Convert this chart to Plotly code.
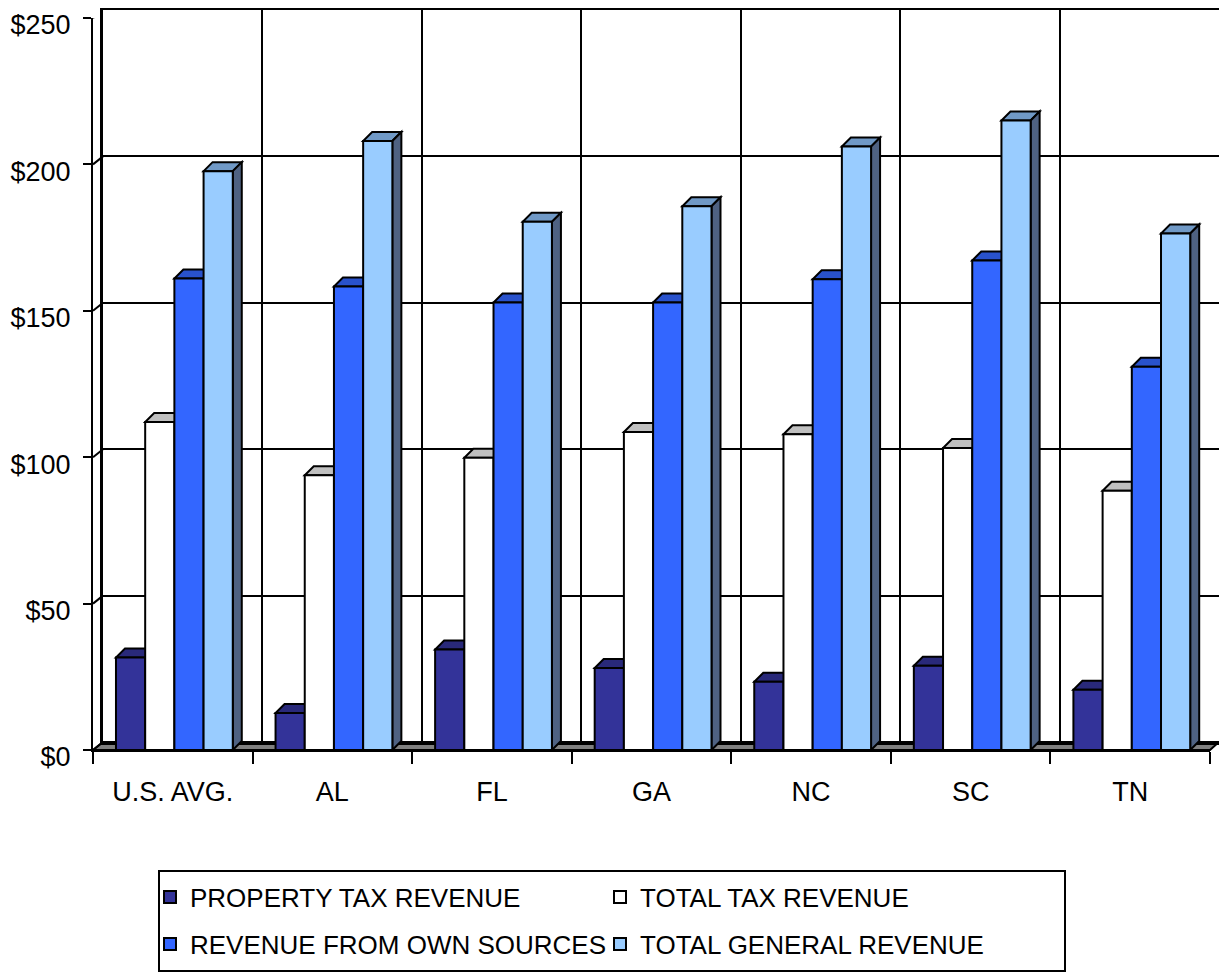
import plotly.graph_objects as go

categories = ["U.S. AVG.", "AL", "FL", "GA", "NC", "SC", "TN"]
property_tax = [31.6, 12.6, 34.3, 28.0, 23.3, 28.8, 20.6]
total_tax = [112.0, 93.8, 99.8, 108.6, 107.8, 103.1, 88.5]
own_sources = [161.0, 158.3, 152.8, 152.8, 160.8, 167.2, 130.9]
general_rev = [197.7, 208.0, 180.4, 185.7, 206.1, 215.0, 176.4]

series_names = ["PROPERTY TAX REVENUE", "TOTAL TAX REVENUE",
                "REVENUE FROM OWN SOURCES", "TOTAL GENERAL REVENUE"]
series_values = [property_tax, total_tax, own_sources, general_rev]
series_legend = ["legend", "legend", "legend2", "legend2"]
front_colors = ["#333399", "#FFFFFF", "#3366FF", "#99CCFF"]
top_colors = ["#29297A", "#C0C0C0", "#2952CC", "#7099C6"]
side_colors = ["#1A1A4D", "#808080", "#1A3380", "#4F6282"]

y_ticks = [0, 50, 100, 150, 200, 250]
y_ticktext = ["$0", "$50", "$100", "$150", "$200", "$250"]

# layout geometry (pixels); page body has an 8px margin
OFF = 8
W, H = 1227 - OFF, 972 - OFF
ML, MR, MT, MB = 85, 8, 2, 222
PW = W - ML - MR          # 1126
PH = H - MT - MB          # 740
FRONT_W = 1117
WALL_H = 732
DX_WALL, DY_WALL = 10, 8
DX_BAR, DY_BAR = 9, 9

n_cat = len(categories)
px_per_cat = FRONT_W / n_cat
units_per_px = 250 / WALL_H

bar_w = 0.183
group_start = -0.356

font_family = "Liberation Sans, Arial, sans-serif"


def px_x(screen_x):
    return (screen_x - OFF - ML) / PW


def px_y(screen_y):
    return (MT + PH - (screen_y - OFF)) / PH


fig = go.Figure()

# dummy trace to keep the back-wall subplot
fig.add_trace(go.Scatter(x=[], y=[], xaxis="x", yaxis="y", showlegend=False, hoverinfo="skip"))

shapes = []
for k, (name, vals) in enumerate(zip(series_names, series_values)):
    off = group_start + k * bar_w
    fig.add_trace(go.Bar(
        x=categories, y=vals, name=name, xaxis="x2", yaxis="y2",
        width=bar_w, offset=off, legend=series_legend[k],
        marker=dict(color=front_colors[k], line=dict(color="black", width=2)),
    ))
    wpx = bar_w * px_per_cat
    dyd = DY_BAR * units_per_px
    for i, v in enumerate(vals):
        xr = i + off + bar_w
        # top face
        shapes.append(dict(
            type="path", xref="x2", yref="y2", xsizemode="pixel", xanchor=xr,
            path=f"M{-wpx:.2f},{v} L0,{v} L{DX_BAR},{v + dyd:.3f} L{-wpx + DX_BAR:.2f},{v + dyd:.3f} Z",
            fillcolor=top_colors[k], line=dict(color="black", width=2), layer="below"))
        # side face
        shapes.append(dict(
            type="path", xref="x2", yref="y2", xsizemode="pixel", xanchor=xr,
            path=f"M0,0 L0,{v} L{DX_BAR},{v + dyd:.3f} L{DX_BAR},{dyd:.3f} Z",
            fillcolor=side_colors[k], line=dict(color="black", width=2), layer="below"))

# floor
fx1 = FRONT_W / PW
fby = DY_WALL / PH
fbx = DX_WALL / PW
shapes.append(dict(
    type="path", xref="paper", yref="paper",
    path=f"M0,0 L{fx1:.5f},0 L1,{fby:.5f} L{fbx:.5f},{fby:.5f} Z",
    fillcolor="#808080", line=dict(color="black", width=2), layer="below"))

# left wall gridlines (front tick to back wall)
for t in y_ticks:
    shapes.append(dict(
        type="path", xref="paper", yref="y2", xsizemode="pixel", xanchor=0,
        ysizemode="pixel", yanchor=t,
        path=f"M0,0 L{DX_WALL},{DY_WALL}",
        line=dict(color="black", width=2), layer="above"))

# legend frame
shapes.append(dict(
    type="rect", xref="paper", yref="paper",
    x0=px_x(159), x1=px_x(1065), y0=px_y(871), y1=px_y(971),
    line=dict(color="black", width=2), fillcolor="rgba(0,0,0,0)", layer="above"))

legend_common = dict(orientation="h", xanchor="left", yanchor="middle",
                     borderwidth=0, bgcolor="rgba(0,0,0,0)",
                     font=dict(family=font_family, size=26, color="black"),
                     entrywidth=405, itemwidth=30, traceorder="normal")

fig.update_layout(
    width=W, height=H,
    margin=dict(l=ML, r=MR, t=MT, b=MB, pad=0, autoexpand=False),
    paper_bgcolor="white", plot_bgcolor="rgba(0,0,0,0)",
    barmode="overlay",
    shapes=shapes,
    xaxis=dict(domain=[DX_WALL / PW, 1], anchor="y", type="category",
               categoryorder="array", categoryarray=categories,
               range=[-0.5, n_cat - 0.5], tickson="boundaries",
               showgrid=True, gridcolor="black", gridwidth=2,
               showticklabels=False, ticks="", zeroline=False,
               showline=True, mirror=True, linecolor="black", linewidth=3),
    yaxis=dict(domain=[DY_WALL / PH, (DY_WALL + WALL_H) / PH], anchor="x", range=[0, 250],
               tickvals=y_ticks, showgrid=True, gridcolor="black", gridwidth=2,
               showticklabels=False, ticks="", zeroline=False,
               showline=True, mirror=True, linecolor="black", linewidth=3),
    xaxis2=dict(domain=[0, FRONT_W / PW], anchor="y2", type="category",
                categoryorder="array", categoryarray=categories,
                range=[-0.5, n_cat - 0.5], tickson="boundaries",
                ticks="outside", ticklen=12, tickwidth=2, tickcolor="black",
                showgrid=False, zeroline=False,
                showline=True, linecolor="black", linewidth=2,
                tickfont=dict(family=font_family, size=27, color="black"),
                ticklabelstandoff=17),
    yaxis2=dict(domain=[0, WALL_H / PH], anchor="x2", range=[0, 250],
                tickvals=y_ticks, ticktext=y_ticktext,
                ticks="outside", ticklen=8, tickwidth=2, tickcolor="black",
                showgrid=False, zeroline=False,
                showline=True, linecolor="black", linewidth=2,
                tickfont=dict(family=font_family, size=27, color="black"),
                ticklabelstandoff=7, ticklabelshift=7, ticklabeloverflow="allow"),
    legend=dict(x=px_x(150), y=px_y(897), **legend_common),
    legend2=dict(x=px_x(150), y=px_y(944), **legend_common),
)

fig.write_html("out.html")
